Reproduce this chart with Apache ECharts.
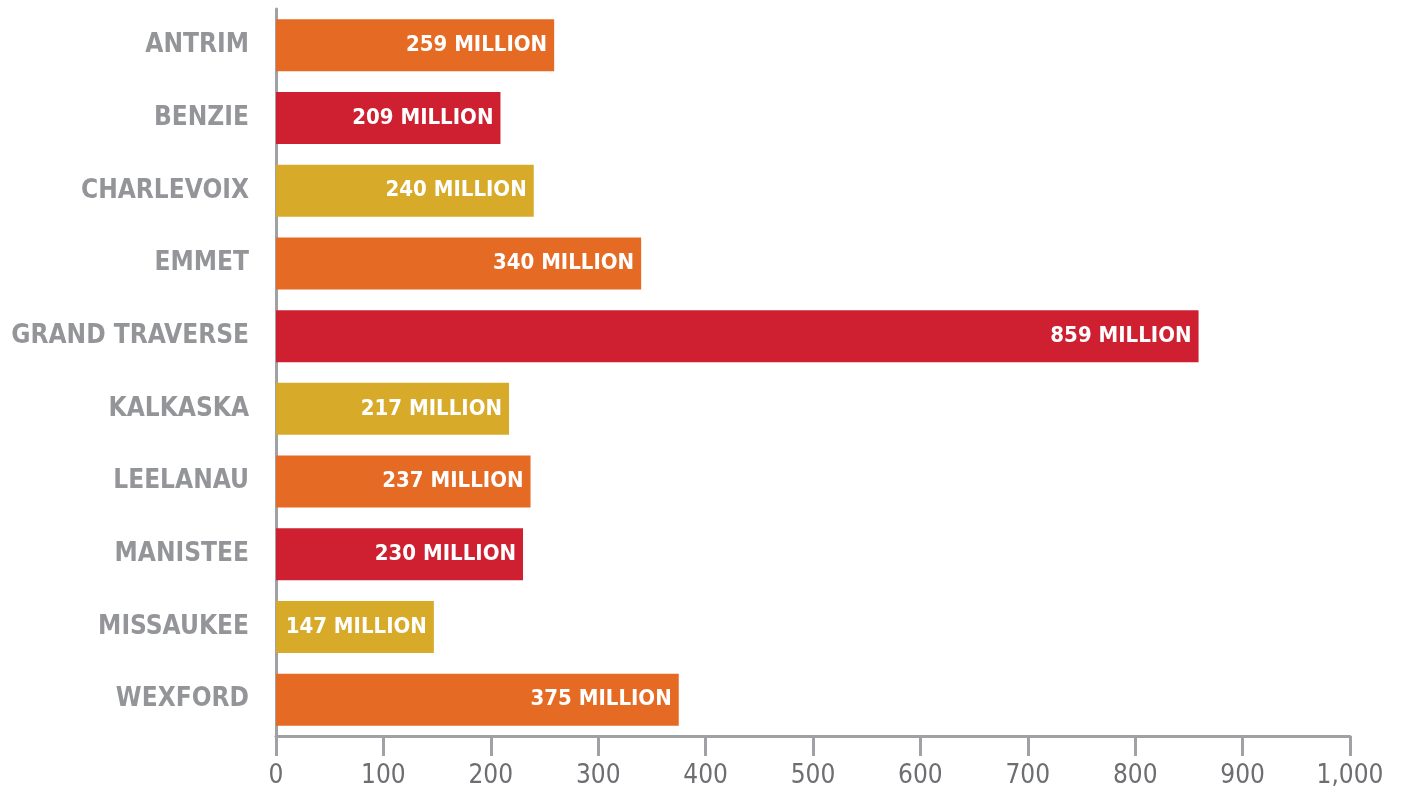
<!DOCTYPE html>
<html><head><meta charset="utf-8">
<script src="https://cdn.jsdelivr.net/npm/echarts@6/dist/echarts.min.js"></script>
<style>html,body{margin:0;padding:0;background:#fff}#c{width:1401px;height:789px}</style>
</head><body><div id="c"></div>
<script>
const categories = ["ANTRIM","BENZIE","CHARLEVOIX","EMMET","GRAND TRAVERSE","KALKASKA","LEELANAU","MANISTEE","MISSAUKEE","WEXFORD"];
const values = [259,209,240,340,859,217,237,230,147,375];
const barColors = ["#E56B25","#CF2032","#D7AB29","#E56B25","#CF2032","#D7AB29","#E56B25","#CF2032","#D7AB29","#E56B25"];
const xTicks = [0,100,200,300,400,500,600,700,800,900,1000];

const FONT = '"Liberation Sans Narrow","DejaVu Sans Condensed","Roboto Condensed",Roboto,sans-serif';
const chart = echarts.init(document.getElementById('c'));
chart.setOption({
  animation:false,
  grid:{left:276,right:51,top:9,bottom:53,containLabel:false,outerBoundsMode:'none'},
  xAxis:{type:'value',min:0,max:1000,interval:100,
    axisLine:{show:true,onZero:false,lineStyle:{color:'#9FA1A4',width:3}},
    axisTick:{show:true,inside:false,length:20,lineStyle:{color:'#9FA1A4',width:3}},
    splitLine:{show:false},
    axisLabel:{color:'#6D6E71',fontFamily:FONT,fontSize:26,margin:27,
      formatter:v=>v.toLocaleString('en-US')}
  },
  yAxis:{type:'category',data:categories,inverse:true,
    axisLine:{show:true,lineStyle:{color:'#9FA1A4',width:3}},
    axisTick:{show:false},
    axisLabel:{color:'#939598',fontFamily:FONT,fontWeight:'bold',fontSize:26,margin:27}
  },
  series:[{type:'bar',barWidth:52,
    data:values.map((v,i)=>({value:v,itemStyle:{color:barColors[i]}})),
    label:{show:true,position:'insideRight',distance:7,color:'#fff',fontFamily:FONT,fontWeight:'bold',fontSize:22,
      formatter:p=>p.value+' MILLION'}
  }]
});
</script></body></html>
